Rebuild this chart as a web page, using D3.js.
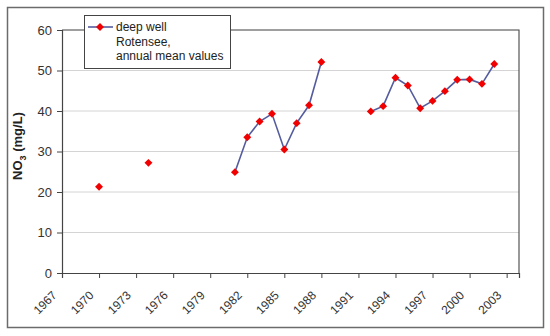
<!DOCTYPE html>
<html>
<head>
<meta charset="utf-8">
<script src="https://cdn.jsdelivr.net/npm/d3@7"></script>
<style>
  body { margin: 0; background: #fff; }
  svg { font-family: "Liberation Sans", Arial, sans-serif; }
</style>
</head>
<body>
<svg id="chart" width="550" height="336"></svg>
<script>
// Annual mean NO3 values, deep well Rotensee (null = no data, breaks the line)
const years = [1970, 1971, 1972, 1973, 1974, 1975, 1976, 1977, 1978, 1979, 1980,
  1981, 1982, 1983, 1984, 1985, 1986, 1987, 1988, 1989, 1990, 1991,
  1992, 1993, 1994, 1995, 1996, 1997, 1998, 1999, 2000, 2001, 2002];
const no3 = [21.3, null, null, null, 27.2, null, null, null, null, null, null,
  24.9, 33.5, 37.4, 39.3, 30.5, 37.0, 41.4, 52.1, null, null, null,
  39.9, 41.2, 48.2, 46.3, 40.7, 42.5, 44.9, 47.7, 47.8, 46.7, 51.6];
const xTicks = [1967, 1970, 1973, 1976, 1979, 1982, 1985, 1988, 1991, 1994, 1997, 2000, 2003];
const yTicks = [0, 10, 20, 30, 40, 50, 60];
const legendLines = ["deep well", "Rotensee,", "annual mean values"];

const data = years.map((y, i) => ({ year: y, value: no3[i] }));

const svg = d3.select("#chart");
const plot = { left: 62, top: 30, right: 519, bottom: 273 };

const x = d3.scaleLinear([1967, 2004], [plot.left, plot.right]);
const y = d3.scaleLinear([0, 60], [plot.bottom, plot.top]);

// outer frame
svg.append("rect")
  .attr("x", 7.5).attr("y", 7.5)
  .attr("width", 536).attr("height", 320)
  .attr("fill", "none")
  .attr("stroke", "#6b6b6b")
  .attr("stroke-width", 1.5);

// gridlines
svg.append("g")
  .selectAll("line")
  .data(yTicks.filter(d => d > 0))
  .join("line")
  .attr("x1", plot.left).attr("x2", plot.right)
  .attr("y1", d => y(d)).attr("y2", d => y(d))
  .attr("stroke", "#d4d4d4")
  .attr("stroke-width", 1);

// plot area border (top/right)
svg.append("path")
  .attr("d", `M${plot.left},${plot.top}H${plot.right}V${plot.bottom}`)
  .attr("fill", "none")
  .attr("stroke", "#555")
  .attr("stroke-width", 1.2);

// y axis
svg.append("g")
  .attr("transform", `translate(${plot.left},0)`)
  .call(d3.axisLeft(y).tickValues(yTicks).tickSize(5).tickPadding(5))
  .call(g => g.select(".domain").attr("stroke", "#444").attr("stroke-width", 1.2))
  .call(g => g.selectAll(".tick line").attr("stroke", "#444"))
  .call(g => g.selectAll(".tick text")
    .attr("font-size", 13)
    .attr("fill", "#333"));

// x axis
svg.append("g")
  .attr("transform", `translate(0,${plot.bottom})`)
  .call(d3.axisBottom(x).tickValues(xTicks).tickSize(5).tickFormat(d3.format("d")))
  .call(g => g.select(".domain").attr("stroke", "#444").attr("stroke-width", 1.2))
  .call(g => g.selectAll(".tick line").attr("stroke", "#444"))
  .call(g => g.selectAll(".tick text")
    .attr("font-size", 12)
    .attr("fill", "#333")
    .attr("text-anchor", "end")
    .attr("dy", null)
    .attr("y", 0)
    .attr("transform", "translate(-5,23) rotate(-45)"));

// y axis title
svg.append("text")
  .attr("transform", "translate(22,146) rotate(-90)")
  .attr("text-anchor", "middle")
  .attr("font-size", 13)
  .attr("font-weight", "bold")
  .attr("fill", "#222")
  .call(t => {
    t.append("tspan").text("NO");
    t.append("tspan").text("3").attr("font-size", 9).attr("dy", 4);
    t.append("tspan").text(" (mg/L)").attr("dy", -4);
  });

// series line with gaps
const line = d3.line()
  .defined(d => d.value != null)
  .x(d => x(d.year))
  .y(d => y(d.value));

svg.append("path")
  .datum(data)
  .attr("d", line)
  .attr("fill", "none")
  .attr("stroke", "#555c9e")
  .attr("stroke-width", 1.6);

const diamond = d3.symbol().type(d3.symbolDiamond2).size(40);

svg.append("g")
  .selectAll("path")
  .data(data.filter(d => d.value != null))
  .join("path")
  .attr("transform", d => `translate(${x(d.year)},${y(d.value)})`)
  .attr("d", diamond)
  .attr("fill", "#f00000");

// legend
const legend = svg.append("g");
legend.append("rect")
  .attr("x", 84.5).attr("y", 15.5)
  .attr("width", 146).attr("height", 53)
  .attr("fill", "#fff")
  .attr("stroke", "#444")
  .attr("stroke-width", 1);
legend.append("line")
  .attr("x1", 88).attr("x2", 113)
  .attr("y1", 27).attr("y2", 27)
  .attr("stroke", "#555c9e")
  .attr("stroke-width", 1.6);
legend.append("path")
  .attr("transform", "translate(100,27)")
  .attr("d", diamond)
  .attr("fill", "#f00000");
legend.selectAll("text")
  .data(legendLines)
  .join("text")
  .attr("x", 116)
  .attr("y", (d, i) => 31 + i * 14.5)
  .attr("font-size", 12)
  .attr("fill", "#222")
  .text(d => d);
</script>
</body>
</html>
